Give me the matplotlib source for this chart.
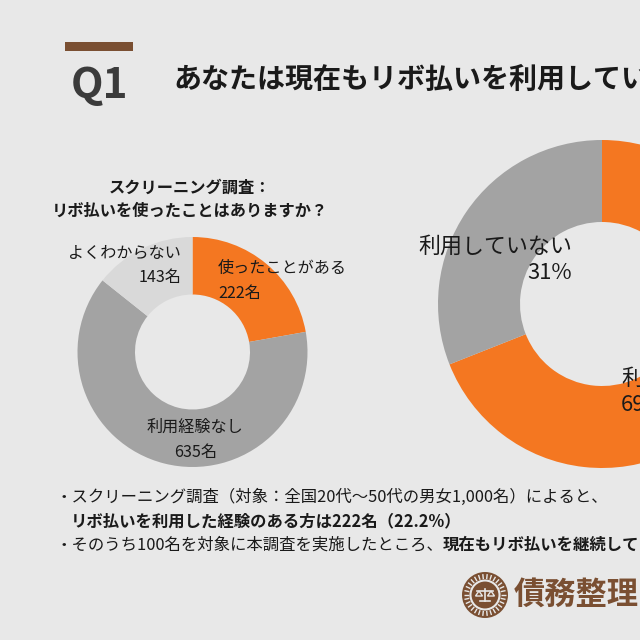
import matplotlib
matplotlib.use("Agg")
import matplotlib.pyplot as plt
from matplotlib.patches import Rectangle, Circle, Polygon
import numpy as np

plt.rcParams['font.family'] = ['Noto Sans CJK JP', 'DejaVu Sans']

# ---- data ----
screen_labels = ['使ったことがある', '利用経験なし', 'よくわからない']
screen_counts = [222, 635, 143]
main_labels = ['利用している', '利用していない']
main_pcts = [69, 31]

title_q = 'Q1'
title_text = 'あなたは現在もリボ払いを利用していますか？'
sub_title = ['スクリーニング調査：', 'リボ払いを使ったことはありますか？']
note1 = '・スクリーニング調査（対象：全国20代〜50代の男女1,000名）によると、'
note2 = 'リボ払いを利用した経験のある方は222名（22.2%）'
note3a = '・そのうち100名を対象に本調査を実施したところ、'
note3b = '現在もリボ払いを継続している方は69%'
logo_text = '債務整理'

ORANGE = '#F47721'
GREY = '#A3A3A3'
LGREY = '#D9D9D9'
BG = '#E8E8E8'
BROWN = '#7A4F32'

W = H = 640
fig = plt.figure(figsize=(6.4, 6.4), dpi=100, facecolor=BG)
ax = fig.add_axes([0, 0, 1, 1])
ax.set_facecolor(BG)


def Y(y):
    return H - y


# ---- donuts ----
r1 = 115
ax.pie(screen_counts, radius=r1, center=(192.5, Y(352)), startangle=90,
       counterclock=False, colors=[ORANGE, GREY, LGREY],
       wedgeprops=dict(width=r1 * 0.5, linewidth=0), frame=True)
r2 = 164
ax.pie(main_pcts, radius=r2, center=(602, Y(304)), startangle=90,
       counterclock=False, colors=[ORANGE, GREY],
       wedgeprops=dict(width=r2 * 0.5, linewidth=0), frame=True)

ax.set_xlim(0, W)
ax.set_ylim(0, H)
ax.set_aspect('equal')
ax.axis('off')

# ---- header ----
ax.add_patch(Rectangle((65, Y(51)), 68, 9, color=BROWN, lw=0))
ax.text(71, Y(98), title_q, fontsize=30.5, fontweight='bold', color='#3B3B3B',
        ha='left', va='baseline')
ax.text(173, Y(88), title_text, fontsize=20.2, fontweight='bold', color='#1A1A1A',
        ha='left', va='baseline')

# ---- left donut subtitle ----
ax.text(190, Y(188), sub_title[0], fontsize=11.7, fontweight='bold', color='#1A1A1A',
        ha='center', va='center')
ax.text(190, Y(211), sub_title[1], fontsize=11.7, fontweight='bold', color='#1A1A1A',
        ha='center', va='center')

# ---- left donut labels ----
lab_fs = 11.6
ax.text(218, Y(268), screen_labels[0], fontsize=lab_fs, color='#1A1A1A', ha='left', va='center')
ax.text(218, Y(293), f'{screen_counts[0]}名', fontsize=lab_fs, color='#1A1A1A', ha='left', va='center')
ax.text(181, Y(253), screen_labels[2], fontsize=lab_fs, color='#1A1A1A', ha='right', va='center')
ax.text(181, Y(277), f'{screen_counts[2]}名', fontsize=lab_fs, color='#1A1A1A', ha='right', va='center')
ax.text(195, Y(427), screen_labels[1], fontsize=lab_fs, color='#1A1A1A', ha='center', va='center')
ax.text(196, Y(452), f'{screen_counts[1]}名', fontsize=lab_fs, color='#1A1A1A', ha='center', va='center')

# ---- right donut labels ----
rl_fs = 15.8
ax.text(572, Y(247), main_labels[1], fontsize=rl_fs, color='#1A1A1A', ha='right', va='center')
ax.text(572, Y(273), f'{main_pcts[1]}%', fontsize=rl_fs, color='#1A1A1A', ha='right', va='center')
ax.text(621, Y(379), main_labels[0], fontsize=rl_fs, color='#1A1A1A', ha='left', va='center')
ax.text(621, Y(405), f'{main_pcts[0]}%', fontsize=rl_fs, color='#1A1A1A', ha='left', va='center')

# ---- notes ----
nfs = 11.8
ax.text(55, Y(497), note1, fontsize=nfs, color='#1A1A1A', ha='left', va='center')
ax.text(71, Y(521), note2, fontsize=nfs, fontweight='bold', color='#1A1A1A', ha='left', va='center')
t3 = ax.text(55, Y(545), note3a, fontsize=nfs, color='#1A1A1A', ha='left', va='center')
ax.annotate(note3b, xy=(1, 0), xycoords=t3, fontsize=nfs, fontweight='bold',
            color='#1A1A1A', ha='left', va='bottom')

# ---- logo ----
cx, cy = 485, Y(595)
ax.add_patch(Circle((cx, cy), 23, color=BROWN, lw=0))
for a in np.linspace(0, 2 * np.pi, 30, endpoint=False):
    ax.plot([cx + 16 * np.cos(a), cx + 21 * np.cos(a)],
            [cy + 16 * np.sin(a), cy + 21 * np.sin(a)], color=BG, lw=1.0,
            solid_capstyle='butt')
ax.add_patch(Circle((cx, cy), 14.5, fill=False, ec=BG, lw=1.5))
ax.plot([cx - 8, cx + 8], [cy + 4, cy + 4], color=BG, lw=1.2)
ax.plot([cx, cx], [cy + 6, cy - 6], color=BG, lw=1.2)
ax.plot([cx - 5, cx + 5], [cy - 6, cy - 6], color=BG, lw=1.2)
for sx in (-6, 6):
    ax.add_patch(Polygon([[cx + sx - 3.5, cy - 1], [cx + sx + 3.5, cy - 1], [cx + sx, cy + 4]],
                         closed=True, fill=False, ec=BG, lw=1.0))
ax.text(514, Y(595), logo_text, fontsize=22.5, fontweight='bold', color=BROWN,
        ha='left', va='center')

fig.savefig('out.png', dpi=100, facecolor=BG)
